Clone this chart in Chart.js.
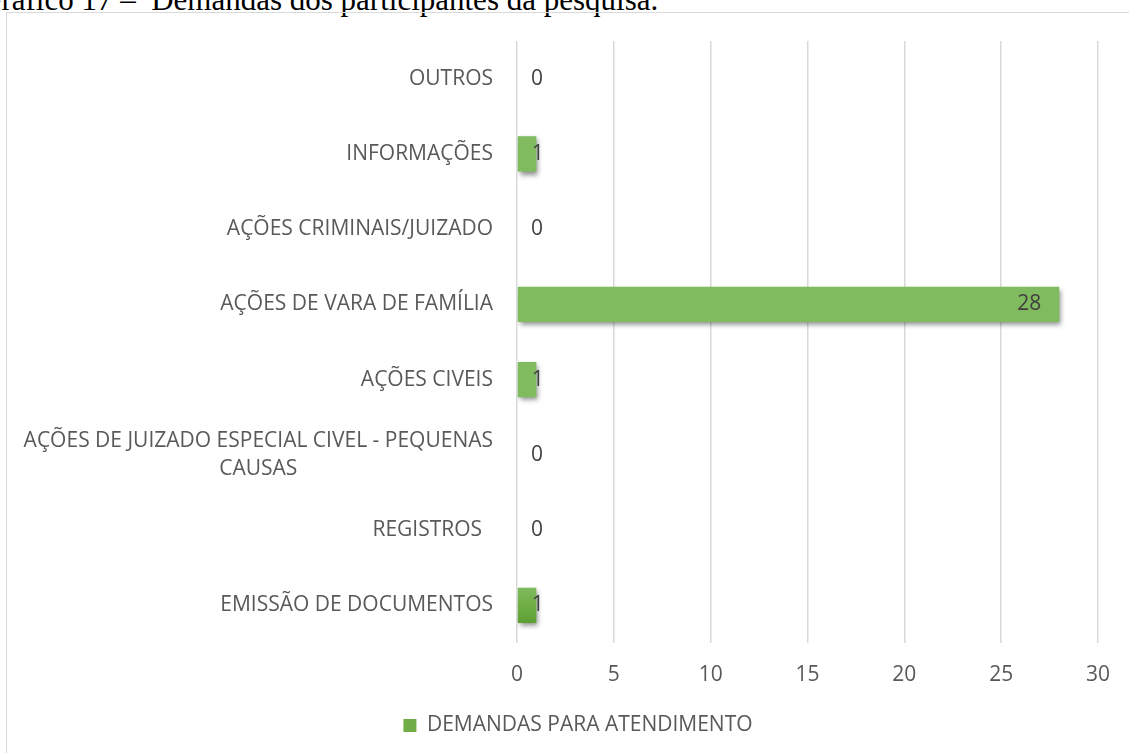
<!DOCTYPE html>
<html lang="pt">
  <head>
    <meta charset="UTF-8" />
    <title>Demandas dos participantes da pesquisa</title>
    <style>
      body { margin: 0; width: 1129px; height: 753px; overflow: hidden; background: #fff; position: relative; }
      #title { position: absolute; left: -21px; top: -16px; font-family: "Liberation Serif", "Times New Roman", serif; font-size: 31px; line-height: 31px; color: #000; white-space: pre; }
      #frame { position: absolute; left: 6px; top: 12px; width: 1200px; height: 800px; border: 1.5px solid #d9d9d9; box-sizing: border-box; }
      #wrap { position: absolute; left: 0; top: 0; width: 1129px; height: 753px; }
    </style>
  </head>
  <body>
    <div id="title">Gráfico 17 –  Demandas dos participantes da pesquisa.</div>
    <div id="frame"></div>
    <div id="wrap"><canvas id="barChartCanvas"></canvas></div>

    <script src="https://cdn.jsdelivr.net/npm/chart.js@4.4.0/dist/chart.umd.min.js"></script>
    <script>
        // categorias de cima para baixo, como aparecem no gráfico
        const categories = [
            'OUTROS',
            'INFORMAÇÕES',
            'AÇÕES CRIMINAIS/JUIZADO',
            'AÇÕES DE VARA DE FAMÍLIA',
            'AÇÕES CIVEIS',
            'AÇÕES DE JUIZADO ESPECIAL CIVEL - PEQUENAS CAUSAS',
            'REGISTROS ',
            'EMISSÃO DE DOCUMENTOS'
        ];
        const demandas = [0, 1, 0, 28, 1, 0, 0, 1];
        const seriesName = 'DEMANDAS PARA ATENDIMENTO';
        const xTicks = [0, 5, 10, 15, 20, 25, 30];

        const labelFont = '21px "Open Sans", sans-serif';
        const labelColor = '#595959';

        function wrapText(ctx, text, maxW) {
            let words = text.split(' ');
            let lines = [];
            let cur = '';
            words.forEach(function (w) {
                let test = cur ? cur + ' ' + w : w;
                if (ctx.measureText(test.trim()).width > maxW && cur) {
                    lines.push(cur);
                    cur = w;
                } else {
                    cur = test;
                }
            });
            if (cur) lines.push(cur);
            // mantém o espaço final de "REGISTROS "
            if (text.endsWith(' ')) lines[lines.length - 1] += ' ';
            return lines;
        }

        // rótulos das categorias (centralizados quando quebram em duas linhas)
        const categoryLabels = {
            id: 'categoryLabels',
            afterDraw(chart) {
                const ctx = chart.ctx;
                const y = chart.scales.y;
                const right = chart.chartArea.left - 24;
                ctx.save();
                ctx.font = labelFont;
                ctx.fillStyle = labelColor;
                ctx.textBaseline = 'middle';
                categories.forEach(function (cat, i) {
                    const lines = wrapText(ctx, cat, 480);
                    const cy = y.getPixelForTick(i);
                    if (lines.length === 1) {
                        ctx.textAlign = 'right';
                        ctx.fillText(lines[0], right, cy);
                    } else {
                        const maxW = Math.max.apply(null, lines.map(l => ctx.measureText(l).width));
                        ctx.textAlign = 'center';
                        const lh = 28;
                        lines.forEach(function (l, k) {
                            ctx.fillText(l, right - maxW / 2, cy + (k - (lines.length - 1) / 2) * lh);
                        });
                    }
                });
                ctx.restore();
            }
        };

        // sombra e degradê das barras
        const barStyle = {
            id: 'barStyle',
            beforeDatasetsDraw(chart) {
                const ctx = chart.ctx;
                chart.getDatasetMeta(0).data.forEach(function (bar) {
                    const top = bar.y - bar.height / 2;
                    const g = ctx.createLinearGradient(0, top, 0, top + bar.height);
                    g.addColorStop(0, '#80bb5f');
                    g.addColorStop(0.5, '#6eae44');
                    g.addColorStop(1, '#5e9f33');
                    bar.options.backgroundColor = g;
                });
                ctx.save();
                ctx.shadowColor = 'rgba(0,0,0,0.45)';
                ctx.shadowBlur = 5;
                ctx.shadowOffsetX = 2;
                ctx.shadowOffsetY = 3;
            },
            afterDatasetsDraw(chart) {
                chart.ctx.restore();
            }
        };

        // rótulos de dados
        const valueLabels = {
            id: 'valueLabels',
            afterDatasetsDraw(chart) {
                const ctx = chart.ctx;
                const meta = chart.getDatasetMeta(0);
                ctx.save();
                ctx.font = labelFont;
                ctx.fillStyle = '#404040';
                ctx.textBaseline = 'middle';
                meta.data.forEach(function (bar, i) {
                    const txt = String(demandas[i]);
                    const w = bar.x - bar.base;
                    if (w > 60) {
                        ctx.textAlign = 'right';
                        ctx.fillText(txt, bar.x - 18, bar.y);
                    } else {
                        ctx.textAlign = 'center';
                        ctx.fillText(txt, bar.base + 20, bar.y);
                    }
                });
                ctx.restore();
            }
        };

        const padLeft = 56;

        let ctx = document.getElementById('barChartCanvas').getContext('2d');
        window.barChart = new Chart(ctx, {
            type: 'bar',
            data: {
                labels: categories,
                datasets: [{
                    label: seriesName,
                    data: demandas,
                    backgroundColor: '#70ad47',
                    borderWidth: 0,
                    barPercentage: 0.47,
                    categoryPercentage: 1
                }]
            },
            options: {
                indexAxis: 'y',
                responsive: true,
                maintainAspectRatio: false,
                animation: false,
                layout: { padding: { top: 41, right: 29, left: padLeft, bottom: 7 } },
                scales: {
                    x: {
                        min: 0,
                        max: 30,
                        afterBuildTicks(scale) {
                            scale.ticks = xTicks.map(v => ({ value: v }));
                        },
                        afterFit(scale) { scale.height = 60; },
                        grid: { color: '#d9d9d9', lineWidth: 1.5, drawTicks: false },
                        border: { display: false },
                        ticks: { padding: 19, color: labelColor, font: { family: 'Open Sans', size: 21 } }
                    },
                    y: {
                        grid: { display: false },
                        border: { display: false },
                        ticks: { display: false },
                        afterFit(scale) { scale.width = 517 - padLeft; }
                    }
                },
                plugins: {
                    legend: {
                        position: 'bottom',
                        labels: {
                            color: labelColor,
                            boxWidth: 13,
                            boxHeight: 13,
                            padding: 12,
                            font: { family: 'Open Sans', size: 21 }
                        }
                    },
                    tooltip: { enabled: false }
                }
            },
            plugins: [barStyle, valueLabels, categoryLabels]
        });
    </script>
  </body>
</html>
